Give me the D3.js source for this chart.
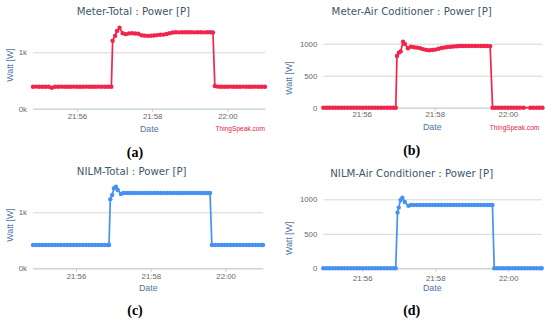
<!DOCTYPE html>
<html><head><meta charset="utf-8">
<script src="https://cdn.jsdelivr.net/npm/d3@7"></script>
<style>body{margin:0;background:#fff}svg{display:block}</style>
</head><body>
<svg id="chart" width="550" height="321"></svg>
<script>
// ---------- data ----------
const xTickLabels = ["21:56", "21:58", "22:00"];
const yTicksTotal = [0, 1000];
const yTickLabelsTotal = ["0k", "1k"];
const yTicksAC = [0, 500, 1000];
const yTickLabelsAC = ["0", "500", "1000"];
const chartTitles = ["Meter-Total : Power [P]", "Meter-Air Coditioner : Power [P]", "NILM-Total : Power [P]", "NILM-Air Conditioner : Power [P]"];
const captions = ["(a)", "(b)", "(c)", "(d)"];
const yAxisTitle = "Watt [W]";
const xAxisTitle = "Date";
const creditText = "ThingSpeak.com";

const timesA = [
 "21:54:50","21:54:55","21:55:00","21:55:05","21:55:10","21:55:15","21:55:20","21:55:25","21:55:30","21:55:35","21:55:40","21:55:45","21:55:50","21:55:55",
 "21:56:00","21:56:05","21:56:10","21:56:15","21:56:20","21:56:25","21:56:30","21:56:35","21:56:40","21:56:45","21:56:50","21:56:55",
 "21:56:57","21:57:01","21:57:04","21:57:08","21:57:13","21:57:18","21:57:23","21:57:28","21:57:33","21:57:38","21:57:43","21:57:48","21:57:53","21:57:58",
 "21:58:03","21:58:08","21:58:13","21:58:18","21:58:23","21:58:28","21:58:33","21:58:38","21:58:43","21:58:48","21:58:53","21:58:58",
 "21:59:03","21:59:08","21:59:13","21:59:18","21:59:23","21:59:28","21:59:33","21:59:37","21:59:40","21:59:45","21:59:50","21:59:55",
 "22:00:00","22:00:05","22:00:10","22:00:15","22:00:20","22:00:25","22:00:30","22:00:35","22:00:40","22:00:45","22:00:50","22:00:55","22:01:00"];
const powerA = [
 390,391,390,389,390,388,372,389,390,391,390,389,390,391,
 390,389,390,391,390,389,390,391,390,389,390,390,
 1205,1294,1378,1436,1337,1322,1335,1337,1334,1328,1302,1295,1292,1293,
 1297,1305,1312,1314,1325,1337,1350,1355,1354,1355,1356,1355,
 1355,1354,1356,1355,1354,1355,1355,1350,402,391,390,389,
 390,391,390,389,390,391,390,389,390,391,390,389,390];

const timesB = [
 "21:54:57","21:55:02","21:55:07","21:55:12","21:55:17","21:55:22","21:55:27","21:55:32","21:55:37","21:55:42","21:55:47","21:55:52","21:55:57",
 "21:56:02","21:56:07","21:56:12","21:56:17","21:56:22","21:56:27","21:56:32","21:56:37","21:56:42","21:56:47","21:56:52","21:56:56",
 "21:56:58","21:57:01","21:57:04","21:57:08","21:57:11","21:57:16","21:57:21","21:57:26","21:57:31","21:57:36","21:57:41","21:57:46","21:57:51","21:57:56",
 "21:58:01","21:58:06","21:58:11","21:58:16","21:58:21","21:58:26","21:58:31","21:58:36","21:58:41","21:58:46","21:58:51","21:58:56",
 "21:59:01","21:59:06","21:59:11","21:59:16","21:59:21","21:59:26","21:59:31","21:59:35","21:59:40","21:59:45","21:59:50","21:59:55",
 "22:00:00","22:00:05","22:00:10","22:00:15","22:00:20","22:00:26","22:00:37","22:00:42","22:00:47","22:00:52","22:00:57"];
const powerB = [
 0,0,0,0,0,0,0,0,0,0,0,0,0,
 0,0,0,0,0,0,0,0,0,0,0,0,
 808,860,880,1031,995,928,953,945,938,928,915,903,898,901,
 908,922,933,941,948,953,957,961,963,964,965,965,
 966,965,966,965,964,963,962,0,0,0,0,0,
 0,0,0,0,0,0,0,0,0,0,0];

const timesC = [
 "21:54:51","21:54:56","21:55:01","21:55:06","21:55:11","21:55:16","21:55:21","21:55:26","21:55:31","21:55:36","21:55:41","21:55:46","21:55:51","21:55:56",
 "21:56:01","21:56:06","21:56:11","21:56:16","21:56:21","21:56:26","21:56:31","21:56:36","21:56:41","21:56:46","21:56:51","21:56:53",
 "21:56:55","21:56:58","21:57:01","21:57:04","21:57:07","21:57:12","21:57:16","21:57:21","21:57:26","21:57:31","21:57:36","21:57:41","21:57:46","21:57:51","21:57:56",
 "21:58:01","21:58:06","21:58:11","21:58:16","21:58:21","21:58:26","21:58:31","21:58:36","21:58:41","21:58:46","21:58:51","21:58:56",
 "21:59:01","21:59:06","21:59:11","21:59:16","21:59:21","21:59:26","21:59:31","21:59:35","21:59:38","21:59:43","21:59:48","21:59:53","21:59:58",
 "22:00:03","22:00:08","22:00:13","22:00:18","22:00:23","22:00:28","22:00:33","22:00:38","22:00:43","22:00:48","22:00:53","22:00:58","22:01:00"];
const powerC = [
 416,416,416,416,416,416,416,416,416,416,416,416,416,416,
 416,416,416,416,416,416,416,416,416,416,416,416,
 1232,1309,1429,1457,1398,1327,1345,1345,1345,1345,1345,1345,1345,1345,1345,
 1345,1345,1345,1345,1345,1345,1345,1345,1345,1345,1345,1345,
 1345,1345,1345,1345,1345,1345,1345,1345,416,416,416,416,416,
 416,416,416,416,416,416,416,416,416,416,416,416,416];

const timesD = [
 "21:54:56","21:55:01","21:55:06","21:55:11","21:55:16","21:55:21","21:55:26","21:55:31","21:55:36","21:55:41","21:55:46","21:55:51","21:55:56",
 "21:56:01","21:56:06","21:56:11","21:56:16","21:56:21","21:56:26","21:56:31","21:56:36","21:56:41","21:56:46","21:56:51","21:56:55",
 "21:56:58","21:57:00","21:57:03","21:57:06","21:57:10","21:57:16","21:57:20","21:57:25","21:57:30","21:57:35","21:57:40","21:57:45","21:57:50","21:57:55",
 "21:58:00","21:58:05","21:58:10","21:58:15","21:58:20","21:58:25","21:58:30","21:58:35","21:58:40","21:58:45","21:58:50","21:58:55",
 "21:59:00","21:59:05","21:59:10","21:59:15","21:59:20","21:59:25","21:59:30","21:59:34","21:59:37","21:59:42","21:59:47","21:59:52","21:59:57",
 "22:00:02","22:00:07","22:00:12","22:00:17","22:00:22","22:00:27","22:00:32","22:00:37","22:00:42","22:00:47","22:00:52","22:00:55"];
const powerD = [
 0,0,0,0,0,0,0,0,0,0,0,0,0,
 0,0,0,0,0,0,0,0,0,0,0,0,
 810,880,990,1023,960,905,917,917,917,917,917,917,917,917,
 917,917,917,917,917,917,917,917,917,917,917,917,
 917,917,917,917,917,917,917,917,0,0,0,0,0,
 0,0,0,0,0,0,0,0,0,0,0,0];

// ---------- drawing ----------
const parse = d3.timeParse("%H:%M:%S");
const RED = "#f2244c", BLUE = "#4790f4";
const FONT = "'Liberation Sans', Arial, sans-serif";
const TFONT = "'DejaVu Sans', Verdana, sans-serif";

const panels = [
 {title: chartTitles[0], caption: captions[0], times: timesA, values: powerA, color: RED, yt: yTicksTotal, ytl: yTickLabelsTotal,
  left: 33, right: 265, y0: 108.7, y1k: 52.3, titleX: 133.4, titleY: 15, tickY: 119, wattX: 10, wattY: 65, dateX: 149.3, dateY: 131.5,
  credit: true, creditX: 265, creditY: 131, capX: 135, capY: 156.5},
 {title: chartTitles[1], caption: captions[1], times: timesB, values: powerB, color: RED, yt: yTicksAC, ytl: yTickLabelsAC,
  left: 323.3, right: 542.5, y0: 107.7, y1k: 43.7, titleX: 411.7, titleY: 15, tickY: 117.5, wattX: 289, wattY: 78, dateX: 432.3, dateY: 130,
  credit: true, creditX: 539.3, creditY: 129.5, capX: 411.7, capY: 155},
 {title: chartTitles[2], caption: captions[2], times: timesC, values: powerC, color: BLUE, yt: yTicksTotal, ytl: yTickLabelsTotal,
  left: 33, right: 263, y0: 268.3, y1k: 212.3, titleX: 131.7, titleY: 175, tickY: 279, wattX: 10, wattY: 225, dateX: 148.3, dateY: 291,
  credit: false, capX: 135, capY: 315},
 {title: chartTitles[3], caption: captions[3], times: timesD, values: powerD, color: BLUE, yt: yTicksAC, ytl: yTickLabelsAC,
  left: 323.3, right: 541.7, y0: 268.3, y1k: 199.3, titleX: 411.7, titleY: 176.7, tickY: 281.5, wattX: 289, wattY: 238.3, dateX: 432.3, dateY: 291,
  credit: false, capX: 411.7, capY: 315}
];

const svg = d3.select("#chart");
svg.append("rect").attr("width", 550).attr("height", 321).attr("fill", "#fff");

panels.forEach(p => {
  const data = p.times.map((t, i) => ({t: parse(t), v: p.values[i]}));
  const x = d3.scaleTime().domain(d3.extent(data, d => d.t)).range([p.left, p.right]);
  const y = d3.scaleLinear().domain([0, 1000]).range([p.y0, p.y1k]);
  const g = svg.append("g");

  // y grid + labels
  const ya = d3.axisLeft(y).tickValues(p.yt).tickFormat((d, i) => p.ytl[i]).tickSize(-(p.right - p.left)).tickPadding(6);
  const yg = g.append("g").attr("transform", `translate(${p.left},0)`).call(ya);
  yg.select(".domain").remove();
  yg.selectAll(".tick line").attr("stroke", "#d6d6d6").attr("stroke-width", 1);
  yg.selectAll(".tick text").attr("fill", "#666").style("font-family", FONT).style("font-size", "7.8px");

  // x axis
  const xTickDates = xTickLabels.map(s => parse(s + ":00"));
  const xa = d3.axisBottom(x).tickValues(xTickDates).tickFormat((d, i) => xTickLabels[i]).tickSize(3.5).tickSizeOuter(0).tickPadding(4);
  const xg = g.append("g").attr("transform", `translate(0,${p.y0})`).call(xa);
  xg.select(".domain").attr("stroke", "#c0d0e0").attr("stroke-width", 1);
  xg.selectAll(".tick line").attr("stroke", "#c0d0e0");
  xg.selectAll(".tick text").attr("fill", "#666").style("font-family", FONT).style("font-size", "7.8px")
    .attr("dy", null).attr("y", p.tickY - p.y0);

  // line + markers
  const line = d3.line().x(d => x(d.t)).y(d => y(d.v));
  g.append("path").datum(data).attr("d", line).attr("fill", "none").attr("stroke", p.color).attr("stroke-width", 1.7).attr("stroke-linejoin", "round");
  g.append("g").selectAll("circle").data(data).join("circle")
    .attr("cx", d => x(d.t)).attr("cy", d => y(d.v)).attr("r", 2.2).attr("fill", p.color);

  // texts
  g.append("text").attr("x", p.titleX).attr("y", p.titleY).attr("text-anchor", "middle")
    .attr("fill", "#3e576f").style("font-family", TFONT).style("font-size", "10.2px").text(p.title);
  g.append("text").attr("transform", `translate(${p.wattX},${p.wattY}) rotate(-90)`).attr("text-anchor", "middle").attr("dy", "0.35em")
    .attr("fill", "#4d759e").style("font-family", FONT).style("font-size", "8.8px").text(yAxisTitle);
  g.append("text").attr("x", p.dateX).attr("y", p.dateY).attr("text-anchor", "middle")
    .attr("fill", "#4d759e").style("font-family", FONT).style("font-size", "8.8px").text(xAxisTitle);
  if (p.credit) {
    g.append("text").attr("x", p.creditX).attr("y", p.creditY).attr("text-anchor", "end")
      .attr("fill", "#e8203f").style("font-family", FONT).style("font-size", "6.6px").text(creditText);
  }
  g.append("text").attr("x", p.capX).attr("y", p.capY).attr("text-anchor", "middle")
    .attr("fill", "#000").style("font-family", "'Liberation Serif', 'Times New Roman', serif").style("font-weight", "bold").style("font-size", "14px").text(p.caption);
});
</script>
</body></html>
